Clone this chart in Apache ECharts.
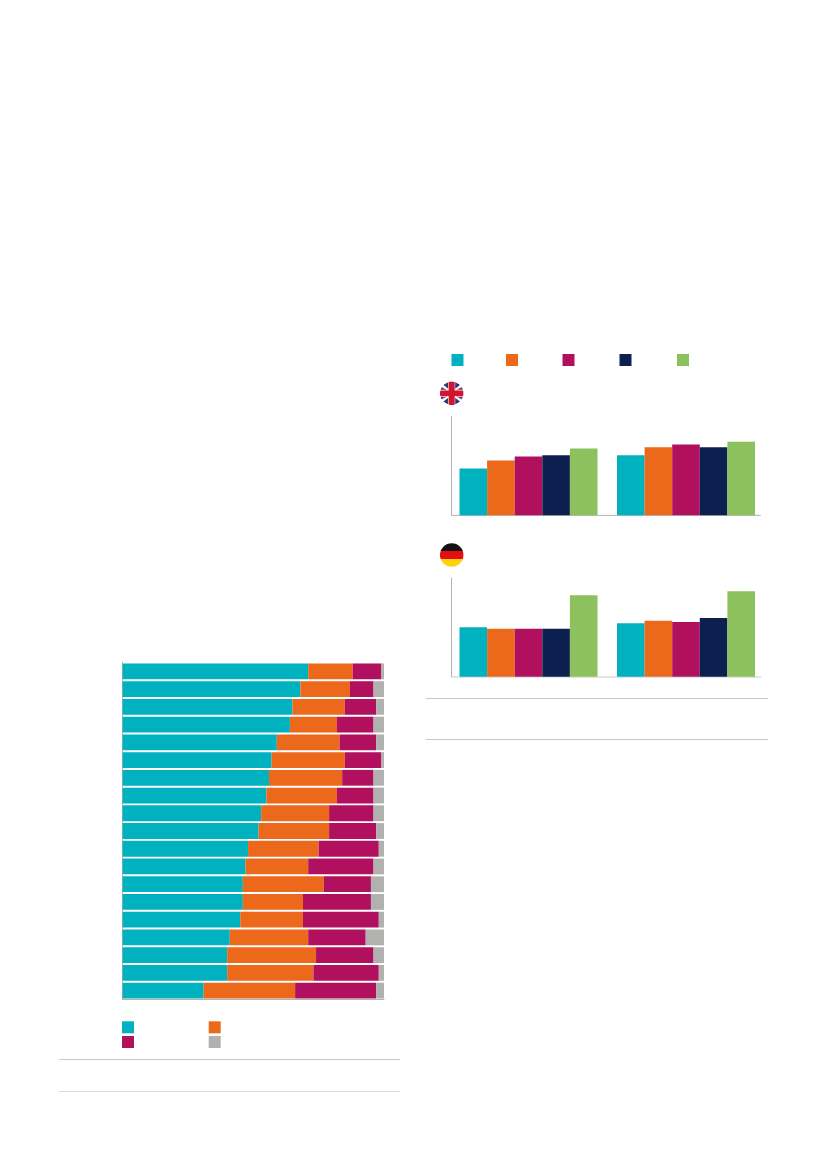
<!DOCTYPE html>
<html>
<head>
<meta charset="utf-8">
<style>html,body{margin:0;padding:0;background:#fff}#c{width:827px;height:1169px}</style>
<script src="https://cdn.jsdelivr.net/npm/echarts@6/dist/echarts.min.js"></script>
</head>
<body>
<div id="c"></div>
<script>
// Stacked shares (reference carries no readable labels), one row per entry, top to bottom
const rows = ['1','2','3','4','5','6','7','8','9','10','11','12','13','14','15','16','17','18','19'];
const shareA = [71,68,65,64,59,57,56,55,53,52,48,47,46,46,45,41,40,40,31];
const shareB = [17,19,20,18,24,28,28,27,26,27,27,24,31,23,24,30,34,33,35];
const shareC = [11, 9,12,14,14,14,12,14,17,18,23,25,18,26,29,22,22,25,31];
const shareD = [ 1, 4, 3, 4, 3, 1, 4, 4, 4, 3, 2, 4, 5, 5, 2, 7, 4, 2, 3];

// Grouped bars: two groups, five series each
const groups = ['Group 1','Group 2'];
const ukS1 = [35,45], ukS2 = [41,51], ukS3 = [44,53], ukS4 = [45,51], ukS5 = [50,55];
const deS1 = [37,40], deS2 = [36,42], deS3 = [36,41], deS4 = [36,44], deS5 = [61,64];

const TEAL='#00b2bf', ORANGE='#ec691c', MAGENTA='#b0105e', NAVY='#0d1f4f', GREEN='#8dc15d', GREY='#b1b1af';

const flagUK = 'data:image/svg+xml;charset=utf-8,' + encodeURIComponent(
 '<svg xmlns="http://www.w3.org/2000/svg" width="24" height="24" viewBox="0 0 24 24"><defs><clipPath id="k"><circle cx="12" cy="12" r="11.8"/></clipPath></defs><g clip-path="url(#k)"><rect width="24" height="24" fill="#fff"/>'
 +'<path d="M3.5 3.5L8.5 1V7.5ZM20.5 3.5L15.5 1V7.5ZM3.5 20.5L8.5 23V16.5ZM20.5 20.5L15.5 23V16.5ZM1 6L6 8.5H1ZM23 6L18 8.5H23ZM1 18L6 15.5H1ZM23 18L18 15.5H23Z" fill="#2a3a78"/>'
 +'<path d="M2 6L7 9M22 18L17 15M22 6L17 9M2 18L7 15" stroke="#d2142d" stroke-width="0.7"/>'
 +'<rect x="9" width="6" height="24" fill="#d2142d"/><rect y="9.2" width="24" height="5.6" fill="#d2142d"/></g></svg>');
const flagDE = 'data:image/svg+xml;charset=utf-8,' + encodeURIComponent(
 '<svg xmlns="http://www.w3.org/2000/svg" width="24" height="24" viewBox="0 0 24 24"><defs><clipPath id="k"><circle cx="12" cy="12" r="11.8"/></clipPath></defs><g clip-path="url(#k)"><rect width="24" height="8" fill="#15120f"/><rect y="8" width="24" height="8" fill="#e30f13"/><rect y="16" width="24" height="8" fill="#ffd208"/></g></svg>');

function swatch(name, left, top) {
  return { data:[name], left:left, top:top, padding:0, itemWidth:12, itemHeight:12, icon:'rect',
           itemGap:0, selectedMode:false, formatter:function(){return '';}, textStyle:{fontSize:1} };
}
function stackSeries(name, data, color) {
  return { type:'bar', name:name, stack:'s', data:data, barWidth:15.8, xAxisIndex:0, yAxisIndex:0,
           itemStyle:{color:color}, silent:true };
}
function groupSeries(name, data, color, idx) {
  return { type:'bar', name:name, data:data, barWidth:27.6, barGap:0, xAxisIndex:idx, yAxisIndex:idx,
           itemStyle:{color:color}, silent:true };
}
function hline(x1, x2, y, color, w) {
  return { type:'line', silent:true, shape:{x1:x1,y1:y,x2:x2,y2:y}, style:{stroke:color,lineWidth:w||1} };
}
// The two bar groups sit slightly wider apart than the drawn baseline is long, so the
// bar grids are 315px wide; the y axis is pulled in to its drawn place, the baseline is a rule.
const catAxis = (grid) => ({ type:'category', gridIndex:grid, data:groups,
  axisLine:{show:false}, axisTick:{show:false}, axisLabel:{show:false} });
const valAxis = (grid) => ({ type:'value', gridIndex:grid, min:0, max:74, offset:-1.75,
  axisLine:{show:true,lineStyle:{color:'#b3b3b3',width:1}}, axisTick:{show:false}, axisLabel:{show:false}, splitLine:{show:false} });

const chart = echarts.init(document.getElementById('c'), null, {renderer:'canvas', width:827, height:1169});
chart.setOption({
  animation:false,
  backgroundColor:'#ffffff',
  tooltip:{show:false},
  grid:[
    {left:122.6, top:662.5, width:261.4, height:337},
    {left:449.75, top:416.5, width:315, height:98.7},
    {left:449.75, top:578, width:315, height:98.7}
  ],
  xAxis:[
    {type:'value', gridIndex:0, min:0, max:100, axisLine:{show:true,lineStyle:{color:'#b3b3b3',width:1}},
     axisTick:{show:false}, axisLabel:{show:false}, splitLine:{show:false}},
    catAxis(1),
    catAxis(2)
  ],
  yAxis:[
    {type:'category', gridIndex:0, inverse:true, data:rows,
     axisLine:{show:true,lineStyle:{color:'#b3b3b3',width:1}}, axisTick:{show:false}, axisLabel:{show:false}},
    valAxis(1),
    valAxis(2)
  ],
  legend:[
    swatch('Share A',122,1021.3), swatch('Share B',208.7,1021.3),
    swatch('Share C',122,1036), swatch('Share D',208.7,1036),
    swatch('Series 1',451.5,354), swatch('Series 2',506,354), swatch('Series 3',562.5,354),
    swatch('Series 4',619.5,354), swatch('Series 5',677,354)
  ],
  series:[
    stackSeries('Share A',shareA,TEAL),
    stackSeries('Share B',shareB,ORANGE),
    stackSeries('Share C',shareC,MAGENTA),
    stackSeries('Share D',shareD,GREY),
    groupSeries('Series 1',ukS1,TEAL,1),
    groupSeries('Series 2',ukS2,ORANGE,1),
    groupSeries('Series 3',ukS3,MAGENTA,1),
    groupSeries('Series 4',ukS4,NAVY,1),
    groupSeries('Series 5',ukS5,GREEN,1),
    groupSeries('Series 1',deS1,TEAL,2),
    groupSeries('Series 2',deS2,ORANGE,2),
    groupSeries('Series 3',deS3,MAGENTA,2),
    groupSeries('Series 4',deS4,NAVY,2),
    groupSeries('Series 5',deS5,GREEN,2)
  ],
  graphic:[
    hline(451.5,760.9,515.4,'#b3b3b3'),
    hline(451.5,760.9,677,'#e4e4e4',2),
    hline(59,400,1059.5,'#c8c8c8'),
    hline(59,400,1091.5,'#dcdcdc'),
    hline(426,768,698.5,'#c8c8c8'),
    hline(426,768,739.5,'#c8c8c8'),
    {type:'image', silent:true, left:439.7, top:381.3, style:{image:flagUK, width:24, height:24}},
    {type:'image', silent:true, left:439.7, top:543, style:{image:flagDE, width:24, height:24}}
  ]
});
</script>
</body>
</html>
